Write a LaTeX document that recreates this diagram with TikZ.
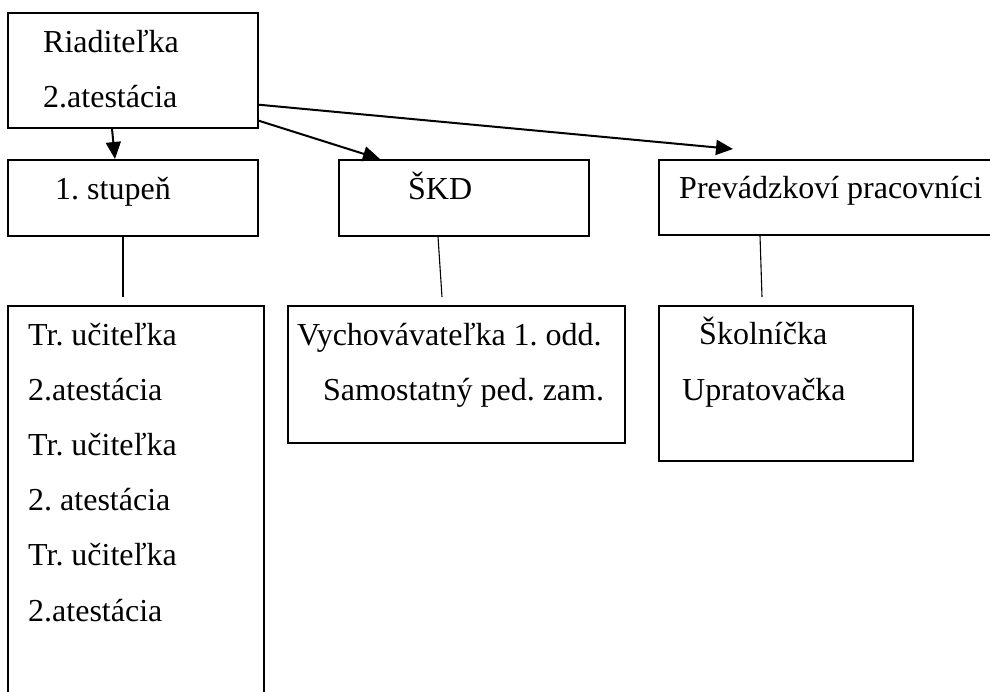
\documentclass[tikz,border=0pt]{standalone}
\usepackage{fontspec}
\setmainfont{Liberation Serif}
\usetikzlibrary{arrows.meta,calc}
\frenchspacing
\begin{document}
\begin{tikzpicture}[x=1pt,y=-1pt,
  box/.style={draw,line width=1.7pt,rectangle,inner sep=0pt,anchor=north west},
  lbl/.style={anchor=base west,inner sep=0pt,font=\fontsize{32}{38}\selectfont},
  arr/.style={line width=2pt,-{Triangle[length=17pt,width=15pt]}},
  link/.style={line width=1.1pt}]
\useasboundingbox (0,0) rectangle (990,691);
\clip (0,0) rectangle (990,691);
% boxes
\node[box,minimum width=250pt,minimum height=115pt] (riad) at (7,12) {};
\node[box,minimum width=250pt,minimum height=76pt] (stupen) at (7,159) {};
\node[box,minimum width=250pt,minimum height=76pt] (skd) at (338,159) {};
\node[box,minimum width=342pt,minimum height=75pt] (prev) at (658,159) {};
\node[box,minimum width=256pt,minimum height=400pt] (tr) at (7,305) {};
\node[box,minimum width=337pt,minimum height=137pt] (vych) at (287,305) {};
\node[box,minimum width=254pt,minimum height=155pt] (skol) at (658,305) {};
% texts
\node[lbl] (t1) at (43,52) {Riaditeľka};
\node[lbl] (t2) at (43,107) {2.atestácia};
\node[lbl] (t3) at (55,199) {1. stupeň};
\node[lbl] (t4) at (408,199) {ŠKD};
\node[lbl] (t5) at (679,198) {Prevádzkoví pracovníci};
\node[lbl] (t6) at (28,345) {Tr. učiteľka};
\node[lbl] (t7) at (28,400) {2.atestácia};
\node[lbl] (t8) at (28,455) {Tr. učiteľka};
\node[lbl] (t9) at (28,510) {2. atestácia};
\node[lbl] (t10) at (28,565) {Tr. učiteľka};
\node[lbl] (t11) at (28,621) {2.atestácia};
\node[lbl] (t12) at (297,345) {Vychovávateľka 1. odd.};
\node[lbl] (t13) at (323,400) {Samostatný ped. zam.};
\node[lbl] (t14) at (699,344) {Školníčka};
\node[lbl] (t15) at (682,400) {Upratovačka};
% connector points
\coordinate (a1s) at ($(riad.south west)+(105,0)$);
\coordinate (a1e) at ($(stupen.north west)+(108,0)$);
\coordinate (a2s) at ($(riad.south east)+(0,-8)$);
\coordinate (a2e) at ($(skd.north west)+(42,0)$);
\coordinate (a3s) at ($(riad.south east)+(0,-24)$);
\coordinate (a3e) at (733,149);
\coordinate (l1s) at ($(stupen.south west)+(116,0)$);
\coordinate (l1e) at ($(tr.north west)+(116,-8)$);
\coordinate (l2s) at ($(skd.south west)+(100,0)$);
\coordinate (l2e) at ($(vych.north west)+(155,-8)$);
\coordinate (l3s) at ($(prev.south west)+(102,0)$);
\coordinate (l3e) at ($(skol.north west)+(104,-8)$);
% arrows
\draw[arr] (a1s) -- (a1e);
\draw[arr] (a2s) -- (a2e);
\draw[arr] (a3s) -- (a3e);
% plain links
\draw[link] (l1s) -- (l1e);
\draw[link] (l2s) -- (l2e);
\draw[link] (l3s) -- (l3e);
\end{tikzpicture}
\end{document}
